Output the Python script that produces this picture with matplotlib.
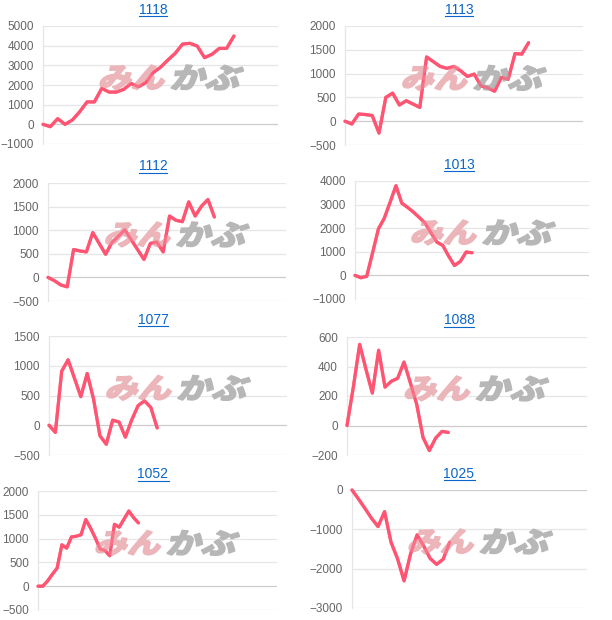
import matplotlib
matplotlib.use("Agg")
import matplotlib.pyplot as plt
from matplotlib.textpath import TextPath
from matplotlib.font_manager import FontProperties
from matplotlib.patches import PathPatch
from matplotlib.transforms import Affine2D
from matplotlib.lines import Line2D

plt.rcParams['font.family'] = ['Liberation Sans', 'DejaVu Sans']

titles = ['1118', '1113', '1112', '1013', '1077', '1088', '1052', '1025']

s1118 = [0, -120, 290, 0, 220, 640, 1140, 1140, 1830, 1640, 1640, 1780, 2080, 1910,
         2120, 2630, 2900, 3270, 3610, 4080, 4120, 3980, 3390, 3560, 3860, 3860, 4490]
s1113 = [0, -60, 150, 140, 120, -250, 500, 590, 340, 430, 360, 290, 1350, 1250, 1150,
         1110, 1150, 1060, 940, 990, 740, 700, 630, 920, 880, 1420, 1410, 1650]
s1112 = [0, -70, -160, -200, 590, 560, 540, 950, 720, 490, 740, 870, 1010, 800, 590,
         380, 720, 750, 540, 1300, 1210, 1180, 1600, 1300, 1510, 1650, 1280]
s1013 = [0, -100, -40, 950, 1970, 2420, 3100, 3800, 3060, 2880, 2680, 2450, 2210,
         1800, 1410, 1270, 820, 420, 590, 990, 960]
s1077 = [0, -120, 910, 1100, 790, 480, 870, 440, -175, -320, 85, 55, -200, 90, 330,
         410, 300, -45]
s1088 = [0, 260, 550, 380, 220, 510, 260, 300, 320, 430, 290, 145, -80, -170, -85,
         -40, -47]
s1052 = [0, 0, 110, 250, 380, 870, 800, 1035, 1050, 1080, 1400, 1220, 1010, 780, 750,
         640, 1300, 1240, 1410, 1580, 1440, 1330]
s1025 = [0, -230, -470, -720, -930, -550, -1330, -1750, -2310, -1620, -1140, -1420,
         -1740, -1890, -1760, -1330]
series = [s1118, s1113, s1112, s1013, s1077, s1088, s1052, s1025]

yticks = [
    [-1000, 0, 1000, 2000, 3000, 4000, 5000],
    [-500, 0, 500, 1000, 1500, 2000],
    [-500, 0, 500, 1000, 1500, 2000],
    [-1000, 0, 1000, 2000, 3000, 4000],
    [-500, 0, 500, 1000, 1500],
    [-200, 0, 200, 400, 600],
    [-500, 0, 500, 1000, 1500, 2000],
    [-3000, -2000, -1000, 0],
]

# layout (pixels): plot box left, top, right, bottom and x extent in slots
W, H = 612, 620
boxes = [(43, 26, 278, 144), (345, 26, 583, 145),
         (48, 183, 286, 301), (355, 181, 589, 299),
         (49, 336, 287, 455), (347, 337, 587, 455),
         (38, 491, 277, 610), (352, 490, 587, 608)]
x_slots = [32, 35, 37.2, 40, 37.4, 37.9, 50, 36.1]

line_color = '#ff5472'
grid_color = '#e6e6e6'

fig = plt.figure(figsize=(W / 100, H / 100), dpi=100)
fig.patch.set_facecolor('white')

jp = FontProperties(family='Noto Sans CJK JP', weight='heavy')


def glyphs(ax, text, x, y, w, h, color):
    p = TextPath((0, 0), text, size=10, prop=jp)
    ext = p.get_extents()
    tr = (Affine2D().translate(-ext.x0, -ext.y0)
          .scale(w / ext.width, h / ext.height)
          .skew_deg(16, 0).translate(x, y))
    ax.add_patch(PathPatch(p, transform=tr, facecolor=color, edgecolor=color,
                           lw=1.0, zorder=4))


title_texts = []
for i in range(8):
    x0, yt, x1, yb = boxes[i]
    ax = fig.add_axes([x0 / W, 1 - yb / H, (x1 - x0) / W, (yb - yt) / H])
    vals = series[i]
    ax.plot(range(len(vals)), vals, color=line_color, lw=2.3,
            solid_joinstyle='round', solid_capstyle='round', clip_on=False, zorder=3)
    # redrawn over the watermark, a little see-through
    ax.plot(range(len(vals)), vals, color=line_color, lw=2.3, alpha=0.7,
            solid_joinstyle='round', solid_capstyle='round', clip_on=False, zorder=5)
    ax.set_xlim(0, x_slots[i])
    ax.set_ylim(yticks[i][0], yticks[i][-1])
    ax.set_yticks(yticks[i])
    ax.set_xticks([])
    for t in yticks[i]:
        ax.axhline(t, color='#cccccc' if t == 0 else grid_color, lw=0.9, zorder=1)
    for s in ['top', 'right', 'bottom']:
        ax.spines[s].set_visible(False)
    ax.spines['left'].set_color(grid_color)
    ax.spines['left'].set_linewidth(0.9)
    ax.tick_params(axis='y', length=0, pad=6.5, labelsize=8.5, labelcolor='#666666')

    # watermark
    wx = x0 + 0.235 * (x1 - x0)
    wy = H - (yt + 0.44 * (yb - yt)) - 12
    glyphs(ax, 'みん', wx, wy, 64, 25, '#ebb5b9')
    glyphs(ax, 'かぶ', wx + 72, wy, 68, 25, '#b7b7b7')

    cx = 153 if i % 2 == 0 else 459
    t = fig.text(cx / W, 1 - (yt - 16.5) / H, titles[i], ha='center', va='center',
                 color='#0b66c9', fontsize=10)
    title_texts.append(t)

fig.canvas.draw()
r = fig.canvas.get_renderer()
for t in title_texts:
    bb = t.get_window_extent(renderer=r)
    fig.add_artist(Line2D([bb.x0, bb.x1], [bb.y0 + 0.5, bb.y0 + 0.5],
                          transform=None, color='#0b66c9', lw=0.8))

fig.savefig('out.png', dpi=100, facecolor='white')
